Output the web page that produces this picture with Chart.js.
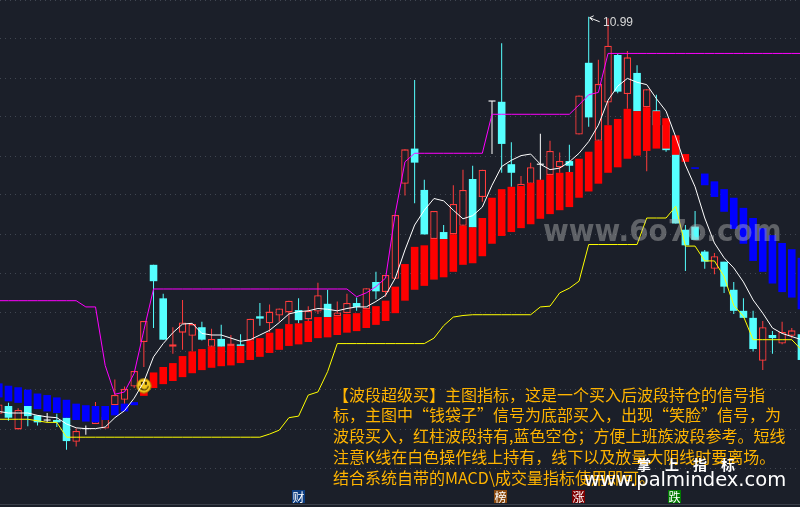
<!DOCTYPE html>
<html>
<head>
<meta charset="utf-8">
<style>
  html, body { margin: 0; padding: 0; background: #1b1f29; }
  canvas { display: block; }
</style>
<script src="https://cdn.jsdelivr.net/npm/chart.js@4"></script>
</head>
<body>
<canvas id="chartWave" width="800" height="507"></canvas>
<script>
const open = [5.90,6.00,5.70,6.00,5.88,5.82,5.82,5.85,5.54,5.71,
  5.77,5.71,6.01,6.08,6.25,6.82,7.81,7.38,6.76,6.94,
  6.90,7.01,6.76,6.86,6.77,6.79,6.84,7.15,7.06,7.16,
  7.20,7.23,7.11,7.21,7.31,7.15,7.19,7.32,7.24,7.59,
  7.46,7.63,8.85,9.30,8.77,8.14,8.23,8.20,8.31,8.91,
  8.68,9.91,9.90,9.10,8.64,8.85,9.10,8.96,9.06,9.14,
  9.48,10.40,9.40,9.89,10.50,10.00,10.27,9.83,9.79,9.60,
  9.41,8.26,8.30,7.98,7.76,7.85,7.49,7.22,7.13,6.58,
  6.91,6.80,6.90,6.92];
const close = [6.02,5.85,5.95,5.87,5.79,5.82,5.79,5.55,5.68,5.71,
  5.95,5.86,6.14,6.22,6.45,7.09,7.60,6.85,6.79,7.07,
  7.05,6.85,6.86,6.76,6.80,6.77,7.12,7.12,7.21,7.25,
  7.35,7.10,7.22,7.42,7.14,7.20,7.32,7.27,7.51,7.47,
  7.68,8.45,9.29,9.12,8.20,8.50,8.14,8.59,8.77,8.29,
  9.03,9.91,9.36,8.99,8.85,9.06,9.10,9.27,9.14,9.08,
  9.98,9.70,10.13,10.62,10.03,10.47,9.78,10.06,9.60,9.28,
  8.34,8.06,8.13,7.85,7.92,7.53,7.22,7.13,6.73,7.01,
  6.87,6.95,6.97,6.59];
const high = [6.05,6.04,5.97,6.00,5.88,5.91,5.90,5.85,5.71,5.75,
  6.05,5.86,6.34,6.25,6.45,7.09,7.81,7.44,7.01,7.36,
  7.05,7.08,6.99,7.04,6.91,6.92,7.12,7.32,7.30,7.25,
  7.35,7.38,7.28,7.58,7.49,7.34,7.44,7.39,7.51,7.72,
  7.68,8.45,9.29,10.18,8.90,8.50,8.32,8.83,9.03,9.08,
  9.03,9.91,10.65,9.38,8.95,9.12,9.49,9.40,9.25,9.35,
  9.98,10.99,10.44,10.97,10.52,10.55,10.37,10.06,9.99,9.60,
  9.41,8.32,8.50,8.00,7.96,7.85,7.59,7.38,7.22,7.09,
  6.96,7.08,7.00,6.92];
const low = [5.87,5.81,5.70,5.74,5.75,5.79,5.73,5.44,5.48,5.63,
  5.77,5.71,6.01,6.03,6.23,6.50,7.00,6.85,6.67,6.72,
  6.70,6.84,6.76,6.76,6.77,6.77,6.84,7.03,6.95,7.08,
  7.05,7.06,7.09,7.18,7.14,7.15,7.19,7.22,7.24,7.37,
  7.40,7.63,8.70,8.60,8.20,8.14,8.14,8.20,8.31,8.29,
  8.62,9.23,8.99,8.81,8.64,8.85,8.90,8.96,8.99,9.00,
  9.48,9.58,9.40,9.60,10.01,9.81,9.78,9.01,9.60,9.26,
  8.34,7.73,8.13,7.76,7.69,7.45,7.18,7.13,6.70,6.46,
  6.67,6.79,6.87,6.49];

// band columns, blue = empty, red = holding
const bandTop = [6.29,6.26,6.24,6.21,6.16,6.14,6.11,6.08,6.03,6.01,
  6.00,6.00,6.01,6.03,6.05,6.23,6.43,6.50,6.55,6.64,
  6.70,6.73,6.76,6.76,6.77,6.77,6.84,6.87,6.94,6.99,
  7.05,7.06,7.09,7.14,7.14,7.15,7.18,7.19,7.24,7.28,
  7.35,7.53,7.82,8.04,8.06,8.14,8.14,8.20,8.31,8.29,
  8.41,8.67,8.78,8.81,8.82,8.86,8.90,8.96,8.99,9.00,
  9.17,9.26,9.40,9.60,9.68,9.81,9.78,9.83,9.78,9.69,
  9.47,9.23,9.06,8.98,8.88,8.78,8.67,8.54,8.41,8.28,
  8.19,8.09,8.01,7.90];
const bandBottom = [6.11,6.06,6.04,6.00,5.96,5.93,5.91,5.85,5.82,5.80,
  5.79,5.82,5.88,5.93,6.01,6.13,6.23,6.28,6.32,6.37,
  6.42,6.46,6.49,6.51,6.52,6.55,6.59,6.63,6.68,6.72,
  6.77,6.79,6.82,6.87,6.88,6.91,6.94,6.96,7.00,7.04,
  7.09,7.19,7.35,7.49,7.54,7.62,7.65,7.72,7.81,7.83,
  7.92,8.08,8.18,8.23,8.28,8.33,8.40,8.46,8.51,8.55,
  8.67,8.75,8.85,8.99,9.06,9.17,9.21,9.27,9.30,9.30,
  9.22,9.13,9.04,8.83,8.68,8.49,8.27,8.08,7.86,7.72,
  7.57,7.46,7.39,7.24];
const holdStart = 15;
const holdEnd = 71;

const whiteLine = [5.93,5.91,5.91,5.91,5.88,5.86,5.85,5.77,5.72,5.71,
  5.71,5.73,5.85,5.94,6.10,6.31,6.63,6.80,6.94,7.05,
  7.06,6.93,6.91,6.91,6.87,6.83,6.85,6.91,6.97,7.07,
  7.18,7.21,7.22,7.25,7.24,7.22,7.25,7.27,7.27,7.34,
  7.42,7.64,8.00,8.32,8.51,8.66,8.63,8.51,8.40,8.44,
  8.55,8.83,9.07,9.15,9.21,9.23,9.10,9.03,9.05,9.13,
  9.24,9.39,9.60,9.92,10.10,10.20,10.15,10.12,9.94,9.78,
  9.45,9.09,8.81,8.41,8.09,7.90,7.77,7.59,7.36,7.19,
  7.00,6.93,6.89,6.85];
const magentaLine = [7.35,7.35,7.35,7.35,7.35,7.35,7.35,7.35,7.35,7.27,
  7.27,6.52,6.15,6.18,6.42,6.97,7.50,7.50,7.50,7.50,
  7.50,7.50,7.50,7.50,7.50,7.50,7.50,7.50,7.50,7.50,
  7.50,7.50,7.50,7.50,7.50,7.50,7.50,7.40,7.45,7.53,
  7.64,8.47,9.13,9.24,9.24,9.24,9.24,9.24,9.24,9.24,
  9.24,9.74,9.74,9.74,9.74,9.74,9.74,9.74,9.74,9.74,
  9.86,9.99,10.02,10.52,10.52,10.52,10.52,10.52,10.52,10.52,
  10.52,10.52,10.52,10.52,10.52,10.52,10.52,10.52,10.52,10.52,
  10.52,10.52,10.52,10.52];
const yellowLine = [5.83,5.83,5.83,5.83,5.81,5.79,5.79,5.60,5.60,5.60,
  5.60,5.60,5.60,5.60,5.60,5.60,5.60,5.60,5.60,5.60,
  5.60,5.60,5.60,5.60,5.60,5.60,5.60,5.60,5.64,5.69,
  5.85,5.87,6.14,6.18,6.44,6.80,6.80,6.80,6.80,6.80,
  6.80,6.80,6.80,6.80,6.80,6.87,7.03,7.14,7.16,7.17,
  7.17,7.17,7.17,7.17,7.17,7.17,7.27,7.28,7.45,7.51,
  7.60,8.07,8.07,8.07,8.07,8.07,8.07,8.41,8.41,8.41,
  8.56,8.05,8.05,7.86,7.86,7.66,7.29,7.15,6.85,6.85,
  6.85,6.85,6.85,6.72];

const smileIndex = [15];
const smileValue = [6.26];
const peakIndex = 61;
const peakLabel = '10.99';

const noteLines = [
  '【波段超级买】主图指标，这是一个买入后波段持仓的信号指',
  '标，主图中“钱袋子”信号为底部买入，出现“笑脸”信号，为',
  '波段买入，红柱波段持有,蓝色空仓；方便上班族波段参考。短线',
  '注意K线在白色操作线上持有，线下以及放量大阴线时要离场。',
  '结合系统自带的MACD\\成交量指标使用即可。',
];
const flagLabels = ['财', '榜', '涨', '跌'];
const flagColors = ['#0b3c80', '#8a4a10', '#7d0000', '#007a00'];
const flagLefts = [292, 494, 572, 668];

const BG = '#1b1f29';
const RED = '#ff3c3c';
const CYAN = '#55ffff';
const indexes = open.map((v, i) => i);

function wickData(test) {
  return indexes.filter(test).map(i => ({ x: i, y: [low[i], high[i]] }));
}
function bodyData(test) {
  return indexes.filter(test).map(i => ({ x: i, y: [open[i], close[i]] }));
}
const isUp = i => close[i] > open[i];
const isDown = i => close[i] < open[i];
const isDoji = i => close[i] === open[i];

function barSet(data, color, width, order, extra) {
  return Object.assign({
    type: 'bar', data, backgroundColor: color, borderWidth: 0,
    maxBarThickness: width, barPercentage: 1, categoryPercentage: 1,
    grouped: false, inflateAmount: 0, order,
  }, extra);
}
function lineSet(values, color, order) {
  return {
    type: 'line', data: values.map((v, i) => ({ x: i, y: v })),
    borderColor: color, borderWidth: 1, pointRadius: 0, tension: 0, order,
  };
}

// smiley used as the point image of the buy signal
function smileImage() {
  const c = document.createElement('canvas');
  c.width = 16; c.height = 16;
  const g = c.getContext('2d');
  g.fillStyle = '#f2c81e';
  g.beginPath(); g.arc(8, 8, 7.2, 0, Math.PI * 2); g.fill();
  g.strokeStyle = '#a67c00'; g.lineWidth = 1;
  g.stroke();
  g.fillStyle = '#3a2a00';
  g.fillRect(5, 4, 2, 3);
  g.fillRect(9, 4, 2, 3);
  g.beginPath(); g.lineWidth = 1.2; g.strokeStyle = '#3a2a00';
  g.arc(8, 7.5, 4.5, 0.2, Math.PI - 0.2); g.stroke();
  return c;
}

const overlays = {
  id: 'overlays',
  beforeDraw(chart) {
    const { ctx, width, height } = chart;
    ctx.save();
    ctx.fillStyle = BG;
    ctx.fillRect(0, 0, width, height);
    ctx.restore();
  },
  afterDatasetsDraw(chart) {
    const { ctx, scales } = chart;
    ctx.save();
    ctx.textBaseline = 'middle';

    // peak marker
    const px = scales.x.getPixelForValue(peakIndex);
    const py = scales.y.getPixelForValue(high[peakIndex]);
    ctx.strokeStyle = '#f0f0f0';
    ctx.lineWidth = 1;
    ctx.beginPath();
    ctx.moveTo(px + 11, py + 5);
    ctx.lineTo(px + 1, py + 1);
    ctx.lineTo(px + 5, py - 1);
    ctx.moveTo(px + 1, py + 1);
    ctx.lineTo(px + 4, py + 4);
    ctx.stroke();
    ctx.fillStyle = '#d8d8d8';
    ctx.font = '12px "Liberation Sans"';
    ctx.fillText(peakLabel, 603, 23);

    // grey site watermark, squeezed a little
    ctx.save();
    ctx.translate(543, 233);
    ctx.scale(0.9, 1);
    ctx.font = 'bold 31px "DejaVu Sans"';
    ctx.fillStyle = 'rgba(190,190,190,0.42)';
    ctx.fillText('www.6o7o.com', 0, 0);
    ctx.restore();

    // note
    ctx.font = '16px "Noto Sans CJK SC"';
    ctx.fillStyle = '#ffb400';
    const noteY = [395, 415, 436, 457, 478];
    noteLines.forEach((t, i) => ctx.fillText(t, 333, noteY[i]));

    // bottom strip
    ctx.fillStyle = '#3a3f49';
    ctx.fillRect(0, 504, 800, 1);
    ctx.font = '12px "Noto Sans CJK SC"';
    flagLabels.forEach((t, i) => {
      ctx.fillStyle = flagColors[i];
      ctx.fillRect(flagLefts[i], 490, 13, 13);
      ctx.fillStyle = '#ffffff';
      ctx.fillText(t, flagLefts[i] + 0.5, 497);
    });

    // white site mark
    ctx.fillStyle = '#ffffff';
    ctx.font = 'bold 14px "Noto Sans CJK SC"';
    ctx.letterSpacing = '14px';
    ctx.fillText('掌上指标', 637, 465);
    ctx.letterSpacing = '0px';
    ctx.font = '19.5px "DejaVu Sans"';
    ctx.fillText('www.palmindex.com', 584, 481);
    ctx.restore();
  },
};

new Chart(document.getElementById('chartWave').getContext('2d'), {
  type: 'bar',
  data: {
    datasets: [
      barSet(wickData(isUp), RED, 1, 20),
      barSet(wickData(isDown), CYAN, 1, 20),
      barSet(wickData(isDoji), '#ffffff', 1, 20),
      barSet(bodyData(isUp), BG, 7.5, 15, { borderColor: RED, borderWidth: 1.3, borderSkipped: false }),
      barSet(bodyData(isDown), CYAN, 7.6, 15),
      barSet(indexes.filter(isDoji).map(i => ({ x: i, y: [open[i] - 0.007, open[i] + 0.007] })), '#ffffff', 7, 15),
      barSet(indexes.filter(i => i >= holdStart && i <= holdEnd).map(i => ({ x: i, y: [bandBottom[i], bandTop[i]] })), '#ff0000', 7.6, 10),
      barSet(indexes.filter(i => i < holdStart || i > holdEnd).map(i => ({ x: i, y: [bandBottom[i], bandTop[i]] })), '#0000ff', 7.6, 10),
      { type: 'line', data: smileIndex.map((x, i) => ({ x, y: smileValue[i] })), showLine: false, pointStyle: smileImage(), pointRadius: 8, order: 5 },
      lineSet(magentaLine, '#ff00ff', 3),
      lineSet(yellowLine, '#ffff00', 3),
      lineSet(whiteLine, '#ffffff', 2),
    ],
  },
  options: {
    responsive: false,
    animation: false,
    layout: { padding: 0, autoPadding: false },
    plugins: { legend: { display: false }, tooltip: { enabled: false } },
    scales: {
      x: { type: 'linear', display: false, offset: false, min: 0.124, max: 82.85 },
      y: {
        min: 4.705,
        max: 11.205,
        afterFit: s => { s.width = 0; },
        ticks: { stepSize: 0.5, display: false, includeBounds: false },
        grid: { color: '#404651', drawTicks: false },
        border: { display: false, dash: [1, 4] },
      },
    },
  },
  plugins: [overlays],
});
</script>
</body>
</html>
